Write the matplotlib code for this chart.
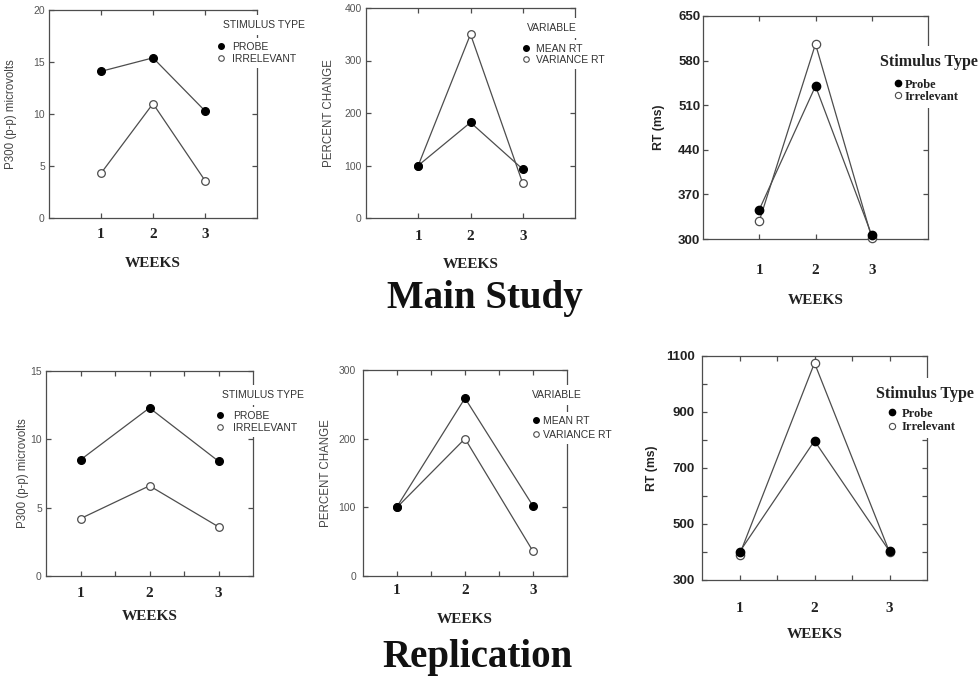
import matplotlib
matplotlib.use('Agg')
import matplotlib.pyplot as plt
from matplotlib.lines import Line2D

SANS = 'Liberation Sans'
SERIF = 'Liberation Serif'
W, H = 980, 676
LINE = '#4d4d4d'

weeks = [1, 2, 3]
week_labels = ['1', '2', '3']
half_weeks = [1.5, 2.5]

# Main Study
main_p300_probe = [14.1, 15.4, 10.3]
main_p300_irrelevant = [4.3, 11.0, 3.6]
main_mean_rt = [100, 182, 93]
main_var_rt = [100, 350, 66]
main_rt_probe = [346, 540, 306]
main_rt_irrelevant = [328, 606, 302]

# Replication
rep_p300_probe = [8.5, 12.3, 8.4]
rep_p300_irrelevant = [4.2, 6.6, 3.6]
rep_mean_rt = [101, 259, 102]
rep_var_rt = [100, 200, 36]
rep_rt_probe = [400, 797, 403]
rep_rt_irrelevant = [390, 1075, 400]

main_p300_yticks = [0, 5, 10, 15, 20]
main_pct_yticks = [0, 100, 200, 300, 400]
main_rt_yticks = [300, 370, 440, 510, 580, 650]
rep_p300_yticks = [0, 5, 10, 15]
rep_pct_yticks = [0, 100, 200, 300]
rep_rt_yticks = [300, 500, 700, 900, 1100]
rep_rt_minor = [400, 600, 800, 1000]

stim_labels = ['PROBE', 'IRRELEVANT']
var_labels = ['MEAN RT', 'VARIANCE RT']
stim_labels_new = ['Probe', 'Irrelevant']

fig = plt.figure(figsize=(W / 100, H / 100), dpi=100)

OLD = dict(ms=5.5, ytick=dict(family=SANS, size=7.5, color='#555555'),
           ylab=dict(family=SANS, size=8.3, color='#444444'),
           key_title=dict(family=SANS, size=7.5, color='#333333'),
           key_fs=7.5, key_font=dict(family=SANS, size=7.5), key_ms=4)
NEW = dict(ms=6, ytick=dict(family=SANS, size=9.5, weight='bold', color='#222222'),
           ylab=dict(family=SANS, size=8.8, weight='bold', color='#222222'),
           key_title=dict(family=SERIF, size=11.5, weight='bold', color='#222222'),
           key_fs=9, key_font=dict(family=SERIF, size=9, weight='bold'), key_ms=4.5)


def draw_panel(box, filled, hollow, xlim, yticks, ylabel, st, pads, minor_x=None, minor_y=None):
    left, top, right, bottom = box
    ax = fig.add_axes([left / W, 1 - bottom / H, (right - left) / W, (bottom - top) / H])
    ax.plot(weeks, hollow, color=LINE, lw=0.9, marker='o', ms=st['ms'], mfc='white',
            mec=LINE, mew=0.9, zorder=3, clip_on=False)
    ax.plot(weeks, filled, color=LINE, lw=0.9, marker='o', ms=st['ms'], mfc='black',
            mec='black', zorder=4, clip_on=False)
    ax.set_xlim(*xlim)
    ax.set_ylim(yticks[0], yticks[-1])
    ax.set_xticks(weeks, labels=week_labels, family=SERIF, weight='bold', size=11, color='#222222')
    ax.set_yticks(yticks, labels=[str(v) for v in yticks], **st['ytick'])
    if minor_x:
        ax.set_xticks(minor_x, minor=True)
    if minor_y:
        ax.set_yticks(minor_y, minor=True)
    ax.tick_params(which='both', direction='in', top=True, right=True, length=3.5,
                   width=0.9, color=LINE)
    ax.tick_params(axis='x', pad=pads[0])
    ax.tick_params(axis='y', pad=pads[1])
    ax.set_xlabel('WEEKS', family=SERIF, weight='bold', size=11, color='#222222', labelpad=pads[2])
    ax.set_ylabel(ylabel, labelpad=pads[3], **st['ylab'])
    for s in ax.spines.values():
        s.set_color(LINE)
        s.set_linewidth(0.9)
    return ax


def add_key(ax, title, labels, st, spec):
    # spec: title x, title y, marker x, label x, row 1 y, row 2 y (figure pixels)
    tx, ty, mx, lx, r1, r2 = spec
    ax.text(tx / W, 1 - ty / H, title, transform=fig.transFigure, ha='left', va='center',
            bbox=dict(boxstyle='square,pad=0.5', fc='white', ec='none'), zorder=6,
            **st['key_title'])
    fs = st['key_fs'] * 100 / 72
    bp, hl = 0.4, 0.6
    row = fs * 1.15
    handles = [Line2D([], [], ls='none', marker='o', ms=st['key_ms'], mfc='black', mec='black'),
               Line2D([], [], ls='none', marker='o', ms=st['key_ms'], mfc='white', mec=LINE, mew=0.8)]
    box_left = mx - bp * fs - hl * fs / 2
    box_top = r1 - row / 2 - bp * fs
    leg = ax.legend(handles, labels, loc='upper left',
                    bbox_to_anchor=(box_left / W, 1 - box_top / H), bbox_transform=fig.transFigure,
                    frameon=True, fancybox=False, facecolor='white', edgecolor='none', framealpha=1,
                    borderpad=bp, handlelength=hl, handletextpad=(lx - mx - hl * fs / 2) / fs,
                    labelspacing=max((r2 - r1 - row) / fs, 0), borderaxespad=0, prop=st['key_font'])
    for t in leg.get_texts():
        t.set_color(st['key_title']['color'])
    leg.set_zorder(7)


# Main Study
ax1 = draw_panel((49, 10, 257, 218), main_p300_probe, main_p300_irrelevant, (0, 4),
                 main_p300_yticks, 'P300 (p-p) microvolts', OLD, (7, 3, 12, 12))
add_key(ax1, 'STIMULUS TYPE', stim_labels, OLD, (223, 25, 221, 232, 48, 62))

ax2 = draw_panel((366, 8, 575, 218), main_mean_rt, main_var_rt, (0, 4),
                 main_pct_yticks, 'PERCENT CHANGE', OLD, (8.5, 3, 11, 7))
add_key(ax2, 'VARIABLE', var_labels, OLD, (527, 28, 526, 536, 50, 63))

ax3 = draw_panel((703, 16, 928, 239), main_rt_probe, main_rt_irrelevant, (0, 4),
                 main_rt_yticks, 'RT (ms)', NEW, (18, 2, 12, 9))
add_key(ax3, 'Stimulus Type', stim_labels_new, NEW, (880, 62, 898, 905, 86, 100))

# Replication
ax4 = draw_panel((46, 371, 253, 576), rep_p300_probe, rep_p300_irrelevant, (0.5, 3.5),
                 rep_p300_yticks, 'P300 (p-p) microvolts', OLD, (8, 3, 7, 1), minor_x=half_weeks)
add_key(ax4, 'STIMULUS TYPE', stim_labels, OLD, (222, 395, 220, 233, 417, 431))

ax5 = draw_panel((363, 370, 567, 576), rep_mean_rt, rep_var_rt, (0.5, 3.5),
                 rep_pct_yticks, 'PERCENT CHANGE', OLD, (6, 5, 11, 5), minor_x=half_weeks)
add_key(ax5, 'VARIABLE', var_labels, OLD, (532, 395, 536, 543, 422, 438))

ax6 = draw_panel((702, 356, 927, 580), rep_rt_probe, rep_rt_irrelevant, (0.5, 3.5),
                 rep_rt_yticks, 'RT (ms)', NEW, (16, 5, 9, 6), minor_x=half_weeks, minor_y=rep_rt_minor)
add_key(ax6, 'Stimulus Type', stim_labels_new, NEW, (876, 394, 892, 902, 415, 431))

fig.text(485 / W, 1 - 308 / H, 'Main Study', ha='center', va='baseline',
         family=SERIF, weight='bold', size=28, color='#111111')
fig.text(477 / W, 1 - 667 / H, 'Replication', ha='center', va='baseline',
         family=SERIF, weight='bold', size=28, color='#111111')

fig.savefig('out.png', dpi=100)
